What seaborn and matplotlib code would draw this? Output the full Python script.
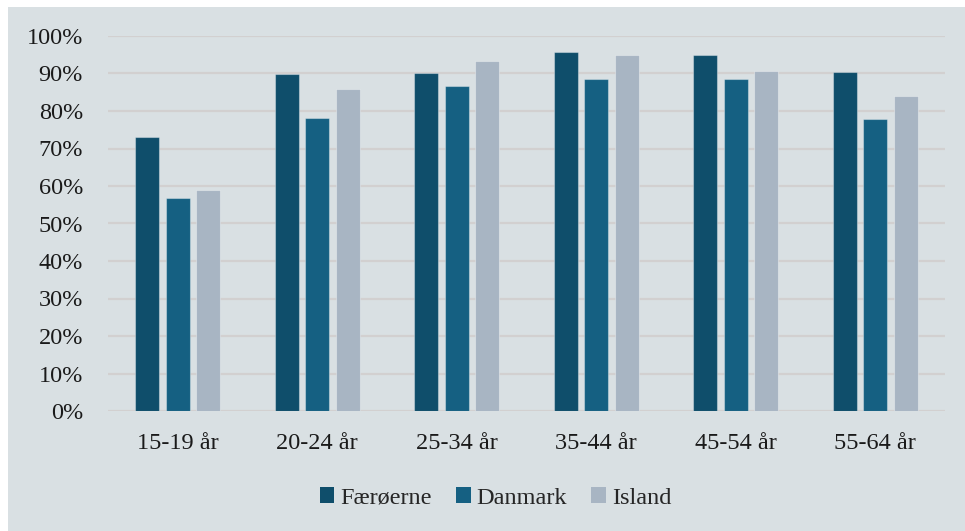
import matplotlib
matplotlib.use("Agg")
import matplotlib.pyplot as plt
import matplotlib.patches as mpatches
import seaborn as sns
import pandas as pd

categories = ["15-19 år", "20-24 år", "25-34 år", "35-44 år", "45-54 år", "55-64 år"]
series_names = ["Færøerne", "Danmark", "Island"]
faeroerne = [73.1, 89.8, 90.0, 95.8, 94.8, 90.4]
danmark = [56.8, 78.0, 86.6, 88.5, 88.6, 77.9]
island = [58.9, 85.9, 93.4, 95.0, 90.8, 84.1]
y_ticks = [0, 10, 20, 30, 40, 50, 60, 70, 80, 90, 100]
colors = ["#0f4e6b", "#156082", "#a8b5c3"]

rows = []
for name, vals in zip(series_names, [faeroerne, danmark, island]):
    for c, v in zip(categories, vals):
        rows.append({"Alder": c, "Land": name, "Andel": v / 100})
df = pd.DataFrame(rows)

sns.set_theme(style="white")
plt.rcParams["font.family"] = ["Liberation Serif", "DejaVu Serif"]

W, H = 965, 531
fig = plt.figure(figsize=(W / 100, H / 100), dpi=100, facecolor="white")
bg = "#d9e0e3"

# background panel (white strip at top and left as in the source)
bgax = fig.add_axes([8 / W, 0, 1 - 8 / W, 1 - 7 / H], zorder=0)
bgax.set_facecolor(bg)
bgax.set_axis_off()
bgax.add_patch(mpatches.Rectangle((0, 0), 1, 1, transform=bgax.transAxes,
                                  facecolor=bg, edgecolor="none"))

ax = fig.add_axes([108 / W, (H - 411) / H, (945 - 108) / W, (411 - 36) / H], zorder=2)
ax.set_facecolor("none")

sns.barplot(data=df, x="Alder", y="Andel", hue="Land", order=categories,
            hue_order=series_names, palette=colors, width=0.66, gap=0.22,
            saturation=1, ax=ax, edgecolor=(1, 1, 1, 0.35), linewidth=0.8,
            zorder=3)

ax.set_ylim(0, 1.0)
ax.set_xlim(-0.5, 5.5)
ax.set_yticks([t / 100 for t in y_ticks])
ax.set_yticklabels([f"{t}%" for t in y_ticks])
ax.yaxis.grid(True, color="#d2d0d0", linewidth=1.6, zorder=0)
ax.xaxis.grid(False)
ax.set_axisbelow(True)
for s in ax.spines.values():
    s.set_visible(False)
ax.set_xlabel("")
ax.set_ylabel("")
ax.tick_params(axis="y", length=0, pad=18, labelsize=17.5, labelcolor="#1a1a1a")
ax.tick_params(axis="x", length=0, pad=16, labelsize=17.5, labelcolor="#1a1a1a")

handles = [mpatches.Patch(facecolor=c, edgecolor="none") for c in colors]
ax.legend(handles, series_names, loc="center", bbox_to_anchor=(0.463, -0.232),
          ncol=3, frameon=False, fontsize=17.5, handlelength=0.6,
          handleheight=0.6, handletextpad=0.25, columnspacing=1.0)

fig.savefig("out.png", dpi=100, facecolor="white")
